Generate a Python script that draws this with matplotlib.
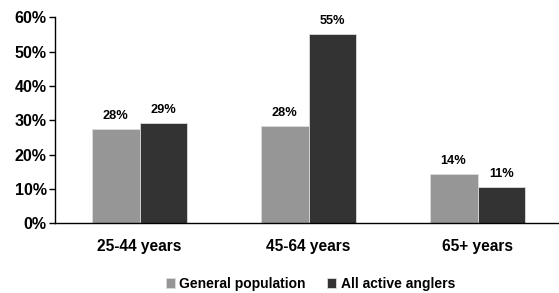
import numpy as np
import matplotlib.pyplot as plt

plt.rcParams['font.family'] = ['Liberation Sans', 'DejaVu Sans']
plt.rcParams['font.weight'] = 'bold'

# data
categories = ['25-44 years', '45-64 years', '65+ years']
general = [27.6, 28.3, 14.3]
anglers = [29.2, 55.1, 10.7]
general_labels = ['28%', '28%', '14%']
anglers_labels = ['29%', '55%', '11%']

fig = plt.figure(figsize=(5.59, 2.93), dpi=100)
ax = fig.add_axes([0.0984, 0.238, 0.907, 0.703])

x = np.arange(len(categories))
w = 0.283

b1 = ax.bar(x - w / 2, general, w, color='#969696', edgecolor='#dcdcdc',
            linewidth=0.6, label='General population')
b2 = ax.bar(x + w / 2, anglers, w, color='#333333', edgecolor='#dcdcdc',
            linewidth=0.6, label='All active anglers')

ax.bar_label(b1, labels=general_labels, padding=5, fontsize=9.2, fontweight='bold')
ax.bar_label(b2, labels=anglers_labels, padding=5, fontsize=9.2, fontweight='bold')

ax.set_ylim(0, 60)
ax.set_xlim(-0.5, 2.5)
ax.set_yticks(np.arange(0, 61, 10))
ax.set_yticklabels([f'{v}%' for v in range(0, 61, 10)], fontsize=11.5, fontweight='bold')
ax.set_xticks(x)
ax.set_xticklabels(categories, fontsize=11.2, fontweight='bold')
ax.tick_params(axis='x', length=0, pad=11)
ax.tick_params(axis='y', length=4, width=1, pad=2)

for s in ['top', 'right']:
    ax.spines[s].set_visible(False)
ax.spines['left'].set_linewidth(1)
ax.spines['bottom'].set_linewidth(1)

fig.legend(loc='center', bbox_to_anchor=(0.555, 0.03), ncol=2, frameon=False,
           handlelength=0.7, handleheight=0.7, handletextpad=0.3,
           columnspacing=1.5, prop={'weight': 'bold', 'size': 10})

fig.savefig('out.png', dpi=100)
